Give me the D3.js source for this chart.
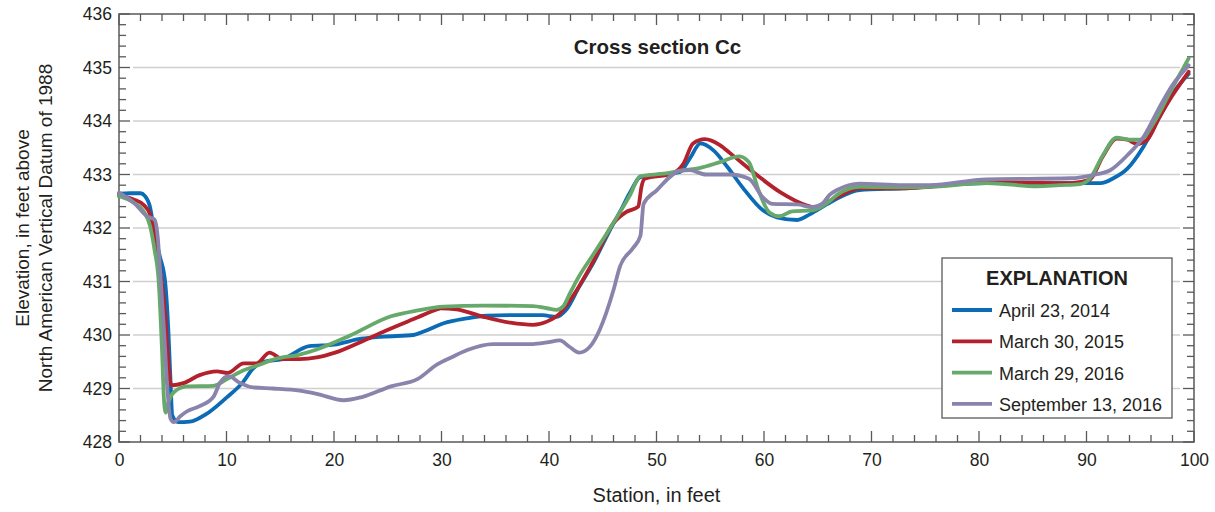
<!DOCTYPE html>
<html>
<head>
<meta charset="utf-8">
<script src="https://cdn.jsdelivr.net/npm/d3@7"></script>
<style>
  html, body { margin: 0; padding: 0; background: #fff; }
  svg text { font-family: "Liberation Sans", Arial, sans-serif; fill: #231f20; }
</style>
</head>
<body>
<svg id="chart" width="1215" height="512"></svg>
<script>
// Survey dates shown in the explanation
const seriesNames = ["April 23, 2014", "March 30, 2015", "March 29, 2016", "September 13, 2016"];
const seriesColors = ["#0b6cb5", "#b3212d", "#66a96a", "#8884ab"];

// Station (ft) / elevation (ft NAVD 88) pairs per survey
const april2014 = [
  [0,432.64],[1,432.65],[2,432.65],[2.4,432.6],[2.9,432.38],[3.3,431.9],[3.8,431.47],[4.3,430.98],
  [4.6,430.05],[4.8,429.1],[4.95,428.5],[5.5,428.37],[6.6,428.38],[8.1,428.52],[10,428.83],
  [11.5,429.11],[12.5,429.38],[13.5,429.5],[15.2,429.55],[17.7,429.79],[20,429.82],[22.5,429.93],
  [24.6,429.97],[27.4,430.0],[28.4,430.07],[30.2,430.22],[32.3,430.31],[34.2,430.36],[36.3,430.37],
  [39.4,430.37],[40.7,430.34],[41.6,430.47],[42.8,430.9],[44.1,431.34],[45.9,432.05],[46.6,432.3],
  [47.5,432.65],[48.5,432.95],[50.5,433.0],[52.2,433.05],[53.1,433.3],[54.1,433.58],[55.3,433.45],
  [56.6,433.14],[58.0,432.76],[59.9,432.33],[61.2,432.2],[63.1,432.15],[64.3,432.26],[65.9,432.45],
  [66.8,432.55],[68.9,432.71],[72.9,432.74],[80.7,432.84],[88.5,432.84],[91.3,432.84],[92.5,432.93],
  [93.8,433.11],[95.3,433.52],[96.8,434.08],[98,434.51],[99.5,434.88]
];
const march2015 = [
  [0,432.6],[1.4,432.53],[2.3,432.43],[2.9,432.25],[3.3,431.84],[3.8,431.28],[4.3,430.35],[4.6,429.45],
  [4.85,429.06],[6.0,429.1],[7.5,429.25],[9.1,429.32],[10.1,429.29],[11.6,429.47],[12.8,429.47],
  [14.0,429.67],[15.2,429.55],[16.8,429.55],[18.4,429.58],[20.1,429.67],[22.6,429.88],[24.7,430.07],
  [27.8,430.33],[29.6,430.48],[29.9,430.5],[31.4,430.48],[33.9,430.34],[36.4,430.23],[38.5,430.19],
  [39.8,430.25],[41.0,430.4],[42.3,430.75],[44.1,431.37],[46.0,432.09],[47.2,432.3],[48.3,432.4],
  [48.6,432.77],[48.9,432.92],[51.5,433.02],[52.5,433.2],[53.4,433.58],[54.5,433.66],[55.9,433.55],
  [56.9,433.39],[59.4,432.98],[61.5,432.67],[64.0,432.42],[64.6,432.39],[66.8,432.58],[68.9,432.74],
  [72.9,432.74],[75.4,432.77],[80.7,432.86],[88.5,432.84],[90.3,432.9],[91.5,433.33],[92.8,433.67],
  [93.8,433.65],[94.7,433.57],[95.6,433.64],[96.8,434.08],[98,434.48],[99.5,434.92]
];
const march2016 = [
  [0,432.6],[1.4,432.47],[2.3,432.31],[2.9,432.03],[3.3,431.6],[3.7,430.98],[4.0,429.73],[4.2,428.74],
  [4.35,428.55],[4.6,428.74],[5.1,428.93],[6.3,429.04],[8.8,429.05],[10,429.17],[11.5,429.33],
  [13,429.44],[14.5,429.55],[16.7,429.63],[18.4,429.73],[21.5,429.99],[25.3,430.35],[27.8,430.46],
  [30.2,430.53],[33.9,430.55],[38.5,430.54],[39.8,430.5],[40.7,430.47],[41.3,430.53],[42.0,430.8],
  [42.8,431.1],[44.1,431.5],[46.0,432.1],[47.5,432.6],[48.5,432.97],[50.9,433.02],[52.2,433.07],
  [54.0,433.12],[55.9,433.23],[57.7,433.34],[58.6,433.23],[59.5,432.7],[60.5,432.29],[61.4,432.22],
  [62.6,432.31],[64.5,432.33],[66.1,432.5],[66.8,432.62],[68.9,432.77],[72.9,432.76],[75.4,432.77],
  [80.7,432.84],[85.4,432.78],[87.5,432.8],[89.4,432.82],[90.3,432.92],[91.5,433.35],[92.8,433.69],
  [94.0,433.65],[95.0,433.65],[96.2,433.95],[97.8,434.55],[99.5,435.17]
];
const september2016 = [
  [0,432.66],[1.4,432.47],[2.6,432.22],[3.3,432.16],[3.6,431.84],[3.8,431.28],[4.2,430.05],[4.5,428.99],
  [4.8,428.43],[5.1,428.37],[5.7,428.48],[6.3,428.57],[7.5,428.67],[8.8,428.85],[9.4,429.11],
  [10.2,429.23],[11.2,429.11],[12.5,429.02],[14.3,429.0],[16.8,428.96],[18.4,428.9],[20.9,428.78],
  [22.6,428.84],[25.3,429.04],[27.8,429.18],[29.6,429.45],[30.9,429.58],[32.4,429.72],[34.8,429.83],
  [38.5,429.83],[39.8,429.86],[41.0,429.9],[41.9,429.78],[42.8,429.67],[43.8,429.78],[44.7,430.09],
  [46.0,430.84],[46.6,431.28],[47.8,431.62],[48.5,431.85],[48.8,432.45],[50.0,432.7],[52.2,433.07],
  [53.1,433.08],[54.6,433.0],[56.8,433.0],[58.6,432.92],[59.9,432.57],[60.8,432.45],[63.1,432.44],
  [64.5,432.39],[65.4,432.45],[66.1,432.62],[66.8,432.71],[68.9,432.83],[72.9,432.8],[75.4,432.8],
  [80.7,432.91],[88.5,432.93],[90.6,432.99],[92.2,433.08],[93.8,433.36],[95.3,433.7],[96.8,434.26],
  [98,434.67],[99.5,435.04]
];
const seriesData = [april2014, march2015, march2016, september2016];

// Axis ticks
const xTickValues = [0,10,20,30,40,50,60,70,80,90,100];
const yTickValues = [428,429,430,431,432,433,434,435,436];

const svg = d3.select("#chart");
const plotLeft = 119, plotRight = 1194, plotTop = 14, plotBottom = 442;

const x = d3.scaleLinear().domain([0, 100]).range([plotLeft, plotRight]);
const y = d3.scaleLinear().domain([428, 436]).range([plotBottom, plotTop]);

const axisColor = "#58595b";

// Horizontal gridlines (inset from the frame)
svg.append("g").selectAll("line")
  .data(yTickValues.filter(v => v > 428 && v < 436))
  .join("line")
  .attr("x1", plotLeft + 14).attr("x2", plotRight - 14)
  .attr("y1", d => y(d)).attr("y2", d => y(d))
  .attr("stroke", "#cfcfcf").attr("stroke-width", 1.5);

// Minor + major ticks on all four sides, pointing inward
const minorX = d3.range(0, 101, 2);
const minorY = d3.range(428, 436.001, 0.2).map(v => +v.toFixed(1));
const ticks = svg.append("g").attr("stroke", axisColor).attr("stroke-width", 1.3);
minorX.forEach(v => {
  const len = v % 10 === 0 ? 11 : 7;
  ticks.append("line").attr("x1", x(v)).attr("x2", x(v)).attr("y1", plotBottom).attr("y2", plotBottom - len);
  ticks.append("line").attr("x1", x(v)).attr("x2", x(v)).attr("y1", plotTop).attr("y2", plotTop + len);
});
minorY.forEach(v => {
  const len = Math.abs(v - Math.round(v)) < 1e-6 ? 11 : 7;
  ticks.append("line").attr("x1", plotLeft).attr("x2", plotLeft + len).attr("y1", y(v)).attr("y2", y(v));
  ticks.append("line").attr("x1", plotRight).attr("x2", plotRight - len).attr("y1", y(v)).attr("y2", y(v));
});

// Frame
svg.append("rect")
  .attr("x", plotLeft).attr("y", plotTop)
  .attr("width", plotRight - plotLeft).attr("height", plotBottom - plotTop)
  .attr("fill", "none").attr("stroke", axisColor).attr("stroke-width", 1.5);

// Tick labels through D3 axes (tick marks hidden; drawn above)
const xAxis = svg.append("g").attr("transform", `translate(0,${plotBottom})`)
  .call(d3.axisBottom(x).tickValues(xTickValues).tickSize(0).tickPadding(12).tickFormat(d3.format("d")));
const yAxis = svg.append("g").attr("transform", `translate(${plotLeft},0)`)
  .call(d3.axisLeft(y).tickValues(yTickValues).tickSize(0).tickPadding(7).tickFormat(d3.format("d")));
[xAxis, yAxis].forEach(g => {
  g.select(".domain").remove();
  g.selectAll("text").attr("font-size", 17.5).attr("fill", "#231f20")
    .style("font-family", "'Liberation Sans', Arial, sans-serif");
});

// Profile lines
const line = d3.line()
  .x(d => x(d[0])).y(d => y(d[1]))
  .curve(d3.curveMonotoneX);

svg.append("g").selectAll("path")
  .data(seriesData)
  .join("path")
  .attr("d", line)
  .attr("fill", "none")
  .attr("stroke", (d, i) => seriesColors[i])
  .attr("stroke-width", 3.8)
  .attr("stroke-linejoin", "round")
  .attr("stroke-linecap", "round");

// Title
svg.append("text")
  .attr("x", (plotLeft + plotRight) / 2 + 1).attr("y", 54)
  .attr("text-anchor", "middle")
  .attr("font-size", 20.5).attr("font-weight", "bold")
  .text("Cross section Cc");

// Axis titles
svg.append("text")
  .attr("x", (plotLeft + plotRight) / 2).attr("y", 502)
  .attr("text-anchor", "middle").attr("font-size", 20)
  .text("Station, in feet");

const yTitle = svg.append("text")
  .attr("transform", `translate(0,${(plotTop + plotBottom) / 2}) rotate(-90)`)
  .attr("text-anchor", "middle").attr("font-size", 19);
yTitle.append("tspan").attr("x", 0).attr("y", 29).text("Elevation, in feet above");
yTitle.append("tspan").attr("x", 0).attr("y", 52).text("North American Vertical Datum of 1988");

// Explanation box
const lg = svg.append("g").attr("transform", `translate(${plotRight - 252},${plotBottom - 184})`);
lg.append("rect").attr("width", 230).attr("height", 160)
  .attr("fill", "#fff").attr("stroke", "#58595b").attr("stroke-width", 1.3);
lg.append("text").attr("x", 115).attr("y", 27).attr("text-anchor", "middle")
  .attr("font-size", 20).attr("font-weight", "bold").text("EXPLANATION");
const items = lg.selectAll("g.item").data(seriesNames).join("g")
  .attr("class", "item")
  .attr("transform", (d, i) => `translate(0,${52 + i * 31.3})`);
items.append("line").attr("x1", 10).attr("x2", 50)
  .attr("stroke", (d, i) => seriesColors[i]).attr("stroke-width", 3.8);
items.append("text").attr("x", 57).attr("y", 7).attr("font-size", 18).text(d => d);
</script>
</body>
</html>
